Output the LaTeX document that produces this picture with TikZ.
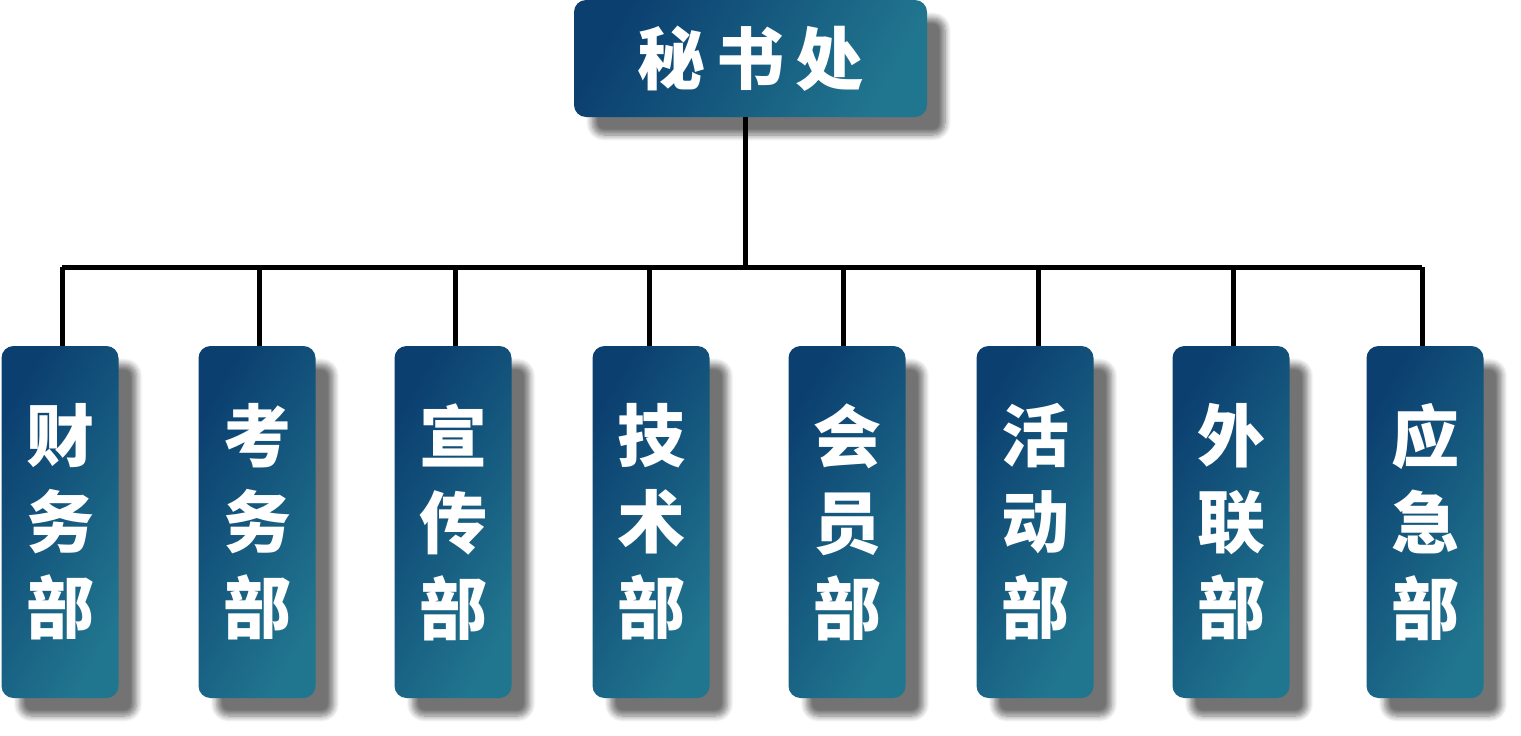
\documentclass[tikz,border=0pt]{standalone}
\usepackage{fontspec}
\newfontfamily\cjk{Noto Sans CJK SC}[BoldFont={* Black}]
\usetikzlibrary{shadows.blur}
\definecolor{bdark}{HTML}{0B3F70}
\definecolor{bteal}{HTML}{21768F}
\tikzset{
  box/.style={rounded corners=12pt, left color=bdark, right color=bteal, shading angle=60,
    draw=none, text=white, font=\cjk\bfseries\fontsize{68}{86}\selectfont,
    blur shadow={shadow xshift=18pt, shadow yshift=-18pt, shadow blur steps=8, shadow opacity=55, shadow blur radius=6pt},
    inner sep=0pt, align=center},
  dept/.style={box, minimum width=117pt, minimum height=352pt},
  conn/.style={line width=5pt}
}
\begin{document}
\begin{tikzpicture}[x=1pt,y=-1pt]
\useasboundingbox (0,0) rectangle (1521,736);
\node[box, minimum width=353pt, minimum height=117pt, font=\cjk\bfseries\fontsize{68}{70}\selectfont] (top) at (750.5,58.5) {秘\,书\,处};
\foreach \n/\x/\t in {a/60/{财\\务\\部},b/257/{考\\务\\部},c/453/{宣\\传\\部},d/651/{技\\术\\部},e/847/{会\\员\\部},f/1035/{活\\动\\部},g/1231/{外\\联\\部},h/1425/{应\\急\\部}}{
  \node[dept] (\n) at (\x,522) {\t};
}
\coordinate (bus) at (745,267);
\draw[conn] (top.south -| bus) -- (bus);
\draw[conn] ([xshift=2pt]a.north |- bus) -- ([xshift=-3pt]h.north |- bus);
\foreach \n/\dx in {a/2,b/2,c/2,d/-2,e/-4,f/3,g/2,h/-3}{
  \draw[conn] ([xshift=\dx pt]\n.north |- bus) -- ([xshift=\dx pt]\n.north);
}
\end{tikzpicture}
\end{document}
